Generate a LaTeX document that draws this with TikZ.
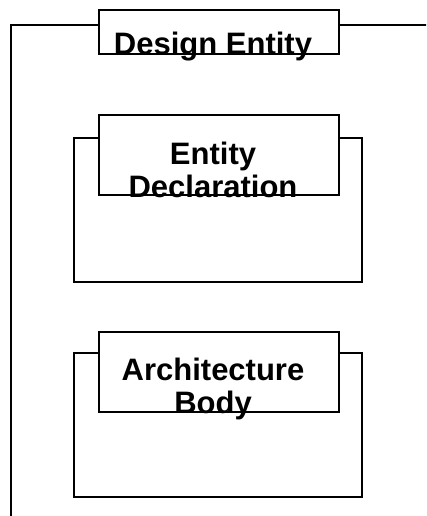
\documentclass[tikz,border=0pt]{standalone}
\usepackage{fontspec}
\setmainfont{Liberation Sans}
\begin{document}
\begin{tikzpicture}[x=1pt, y=-1pt,
    box/.style={draw, line width=1.5pt, fill=white, inner sep=0pt},
    tabbox/.style={draw, line width=1.5pt, fill=white, inner sep=0pt,
        minimum width=240pt, minimum height=80pt},
    title/.style={font=\fontsize{31}{33}\selectfont\bfseries, align=center, anchor=base, inner sep=0pt}]
        \def\tabW{240}
        \def\boxW{288}
        \def\boxH{144}
        % 画布
        \useasboundingbox (0,0) rectangle (426,516);
        \clip (0,0) rectangle (426,516);
        % 外框（超出画面）
        \node[box, minimum width=440pt, minimum height=520pt] (design) at (231,285) {};
        \node[tabbox, minimum height=44pt] (designtab) at (219,32) {};
        \node[title] (designtext) at (213,55) {Design Entity};
        % 实体声明
        \node[box, minimum width=\boxW pt, minimum height=\boxH pt] (entbox) at (218,210) {};
        \node[tabbox] (enttab) at (219,155) {};
        \node[title] (enttext) at (213,197) {Entity\\Declaration};
        % 结构体
        \node[box, minimum width=\boxW pt, minimum height=\boxH pt] (archbox) at (218,425) {};
        \node[tabbox] (archtab) at (219,372) {};
        \node[title] (archtext) at (213,413) {Architecture\\Body};
\end{tikzpicture}
\end{document}
